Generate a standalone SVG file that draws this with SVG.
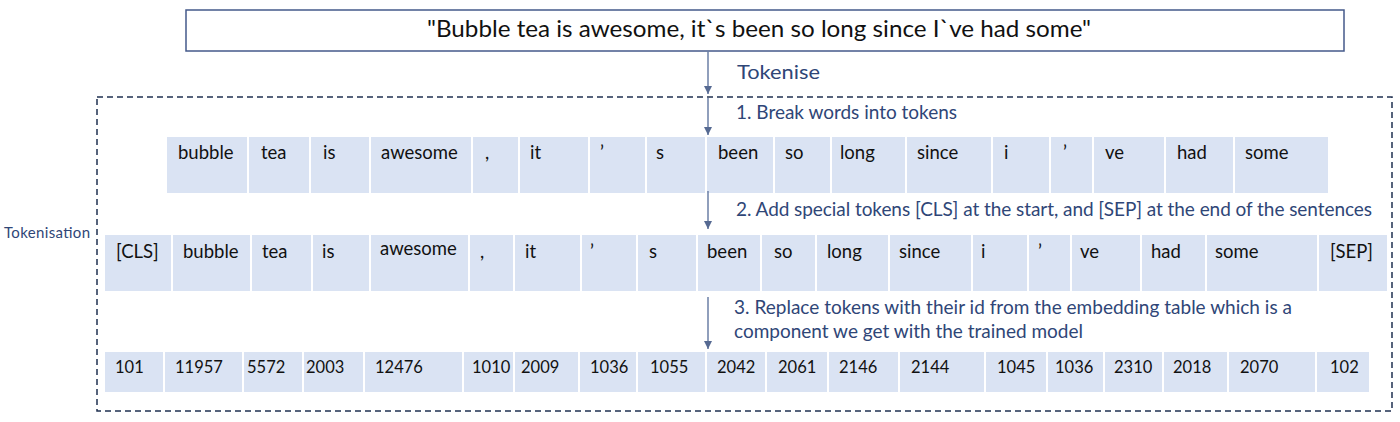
<svg xmlns="http://www.w3.org/2000/svg" width="1400" height="422" viewBox="0 0 1400 422">
<style>
text{font-family:Lato,"Liberation Sans",sans-serif}
.cell{fill:#dae3f3}
.tok{font-size:18.5px;fill:#111111}
.num{font-size:16.5px;fill:#111111}
.lbl{fill:#2f4677;font-size:19px}
.conn{stroke:#6b7fa6;stroke-width:1.5;fill:none}
</style>
<defs>
<marker id="ah" markerUnits="userSpaceOnUse" markerWidth="9" markerHeight="9" refX="8" refY="4" orient="auto">
<path d="M0,0 L8,4 L0,8 z" fill="#566a92"/>
</marker>
</defs>
<rect width="1400" height="422" fill="#ffffff"/>

<g id="sentence">
<rect x="186" y="10" width="1158" height="41" fill="#ffffff" stroke="#44598a" stroke-width="1.5"/>
<text x="427" y="37" font-size="24" fill="#111111" textLength="664" lengthAdjust="spacingAndGlyphs">"Bubble tea is awesome, it`s been so long since I`ve had some"</text>
</g>

<g id="tokenisation-frame">
<rect x="97" y="97" width="1295" height="314" fill="none" stroke="#1f3050" stroke-width="1.5" stroke-dasharray="6 4"/>
<text x="4" y="238" font-size="15" fill="#2f4677" textLength="86">Tokenisation</text>
</g>

<g id="labels">
<text class="lbl" x="737" y="79" font-size="22" textLength="83" lengthAdjust="spacingAndGlyphs">Tokenise</text>
<text class="lbl" x="736" y="119" textLength="221">1. Break words into tokens</text>
<text class="lbl" x="736" y="216" textLength="636">2. Add special tokens [CLS] at the start, and [SEP] at the end of the sentences</text>
<text class="lbl" x="734" y="314" textLength="558">3. Replace tokens with their id from the embedding table which is a</text>
<text class="lbl" x="734" y="338" textLength="349">component we get with the trained model</text>
</g>

<g id="row-tokens">
<g id="t1-bubble"><rect class="cell" x="167" y="137" width="80" height="56"/><text class="tok" x="178" y="159">bubble</text></g>
<g id="t1-tea"><rect class="cell" x="249" y="137" width="60" height="56"/><text class="tok" x="261" y="159">tea</text></g>
<g id="t1-is"><rect class="cell" x="311" y="137" width="58" height="56"/><text class="tok" x="323" y="159">is</text></g>
<g id="t1-awesome"><rect class="cell" x="371" y="137" width="100" height="56"/><text class="tok" x="381" y="159">awesome</text></g>
<g id="t1-comma"><rect class="cell" x="473" y="137" width="45" height="56"/><text class="tok" x="485" y="159">,</text></g>
<g id="t1-it"><rect class="cell" x="520" y="137" width="68" height="56"/><text class="tok" x="530" y="159">it</text></g>
<g id="t1-apos1"><rect class="cell" x="590" y="137" width="55" height="56"/><text class="tok" x="600" y="159">’</text></g>
<g id="t1-s"><rect class="cell" x="647" y="137" width="58" height="56"/><text class="tok" x="656" y="159">s</text></g>
<g id="t1-been"><rect class="cell" x="707" y="137" width="66" height="56"/><text class="tok" x="718" y="159">been</text></g>
<g id="t1-so"><rect class="cell" x="775" y="137" width="55" height="56"/><text class="tok" x="785" y="159">so</text></g>
<g id="t1-long"><rect class="cell" x="832" y="137" width="73" height="56"/><text class="tok" x="840" y="159">long</text></g>
<g id="t1-since"><rect class="cell" x="907" y="137" width="84" height="56"/><text class="tok" x="917" y="159">since</text></g>
<g id="t1-i"><rect class="cell" x="993" y="137" width="56" height="56"/><text class="tok" x="1004" y="159">i</text></g>
<g id="t1-apos2"><rect class="cell" x="1051" y="137" width="41" height="56"/><text class="tok" x="1063" y="159">’</text></g>
<g id="t1-ve"><rect class="cell" x="1094" y="137" width="70" height="56"/><text class="tok" x="1105" y="159">ve</text></g>
<g id="t1-had"><rect class="cell" x="1166" y="137" width="67" height="56"/><text class="tok" x="1177" y="159">had</text></g>
<g id="t1-some"><rect class="cell" x="1235" y="137" width="93" height="56"/><text class="tok" x="1245" y="159">some</text></g>
</g>

<g id="row-special">
<g id="t2-cls"><rect class="cell" x="105" y="235" width="66" height="56"/><text class="tok" x="116" y="258">[CLS]</text></g>
<g id="t2-bubble"><rect class="cell" x="173" y="235" width="77" height="56"/><text class="tok" x="183" y="258">bubble</text></g>
<g id="t2-tea"><rect class="cell" x="252" y="235" width="59" height="56"/><text class="tok" x="262" y="258">tea</text></g>
<g id="t2-is"><rect class="cell" x="313" y="235" width="56" height="56"/><text class="tok" x="322" y="258">is</text></g>
<g id="t2-awesome"><rect class="cell" x="371" y="235" width="97" height="56"/><text class="tok" x="380" y="255" font-size="15.5">awesome</text></g>
<g id="t2-comma"><rect class="cell" x="470" y="235" width="43" height="56"/><text class="tok" x="480" y="258">,</text></g>
<g id="t2-it"><rect class="cell" x="515" y="235" width="65" height="56"/><text class="tok" x="525" y="258">it</text></g>
<g id="t2-apos1"><rect class="cell" x="582" y="235" width="54" height="56"/><text class="tok" x="590" y="258">’</text></g>
<g id="t2-s"><rect class="cell" x="638" y="235" width="58" height="56"/><text class="tok" x="649" y="258">s</text></g>
<g id="t2-been"><rect class="cell" x="698" y="235" width="62" height="56"/><text class="tok" x="707" y="258">been</text></g>
<g id="t2-so"><rect class="cell" x="762" y="235" width="53" height="56"/><text class="tok" x="774" y="258">so</text></g>
<g id="t2-long"><rect class="cell" x="817" y="235" width="71" height="56"/><text class="tok" x="827" y="258">long</text></g>
<g id="t2-since"><rect class="cell" x="890" y="235" width="81" height="56"/><text class="tok" x="899" y="258">since</text></g>
<g id="t2-i"><rect class="cell" x="973" y="235" width="54" height="56"/><text class="tok" x="981" y="258">i</text></g>
<g id="t2-apos2"><rect class="cell" x="1029" y="235" width="41" height="56"/><text class="tok" x="1038" y="258">’</text></g>
<g id="t2-ve"><rect class="cell" x="1072" y="235" width="68" height="56"/><text class="tok" x="1080" y="258">ve</text></g>
<g id="t2-had"><rect class="cell" x="1142" y="235" width="63" height="56"/><text class="tok" x="1151" y="258">had</text></g>
<g id="t2-some"><rect class="cell" x="1207" y="235" width="110" height="56"/><text class="tok" x="1215" y="258">some</text></g>
<g id="t2-sep"><rect class="cell" x="1319" y="235" width="68" height="56"/><text class="tok" x="1330" y="258">[SEP]</text></g>
</g>

<g id="row-ids">
<g id="t3-101"><rect class="cell" x="105" y="352" width="58" height="40"/><text class="num" x="115" y="373">101</text></g>
<g id="t3-11957"><rect class="cell" x="165" y="352" width="77" height="40"/><text class="num" x="175" y="373">11957</text></g>
<g id="t3-5572"><rect class="cell" x="244" y="352" width="58" height="40"/><text class="num" x="247" y="373">5572</text></g>
<g id="t3-2003"><rect class="cell" x="304" y="352" width="59" height="40"/><text class="num" x="306" y="373">2003</text></g>
<g id="t3-12476"><rect class="cell" x="365" y="352" width="97" height="40"/><text class="num" x="375" y="373">12476</text></g>
<g id="t3-1010"><rect class="cell" x="464" y="352" width="49" height="40"/><text class="num" x="472" y="373">1010</text></g>
<g id="t3-2009"><rect class="cell" x="515" y="352" width="63" height="40"/><text class="num" x="521" y="373">2009</text></g>
<g id="t3-1036a"><rect class="cell" x="580" y="352" width="56" height="40"/><text class="num" x="590" y="373">1036</text></g>
<g id="t3-1055"><rect class="cell" x="638" y="352" width="67" height="40"/><text class="num" x="650" y="373">1055</text></g>
<g id="t3-2042"><rect class="cell" x="707" y="352" width="58" height="40"/><text class="num" x="717" y="373">2042</text></g>
<g id="t3-2061"><rect class="cell" x="767" y="352" width="60" height="40"/><text class="num" x="778" y="373">2061</text></g>
<g id="t3-2146"><rect class="cell" x="829" y="352" width="69" height="40"/><text class="num" x="839" y="373">2146</text></g>
<g id="t3-2144"><rect class="cell" x="900" y="352" width="84" height="40"/><text class="num" x="911" y="373">2144</text></g>
<g id="t3-1045"><rect class="cell" x="986" y="352" width="60" height="40"/><text class="num" x="997" y="373">1045</text></g>
<g id="t3-1036b"><rect class="cell" x="1048" y="352" width="55" height="40"/><text class="num" x="1055" y="373">1036</text></g>
<g id="t3-2310"><rect class="cell" x="1105" y="352" width="57" height="40"/><text class="num" x="1114" y="373">2310</text></g>
<g id="t3-2018"><rect class="cell" x="1164" y="352" width="63" height="40"/><text class="num" x="1173" y="373">2018</text></g>
<g id="t3-2070"><rect class="cell" x="1229" y="352" width="86" height="40"/><text class="num" x="1240" y="373">2070</text></g>
<g id="t3-102"><rect class="cell" x="1317" y="352" width="52" height="40"/><text class="num" x="1330" y="373">102</text></g>
</g>

<g id="connectors">
<line class="conn" x1="708" y1="51" x2="708" y2="94" marker-end="url(#ah)"/>
<line class="conn" x1="708" y1="98" x2="708" y2="135" marker-end="url(#ah)"/>
<line class="conn" x1="708" y1="191" x2="708" y2="229" marker-end="url(#ah)"/>
<line class="conn" x1="708" y1="297" x2="708" y2="349" marker-end="url(#ah)"/>
</g>
</svg>
